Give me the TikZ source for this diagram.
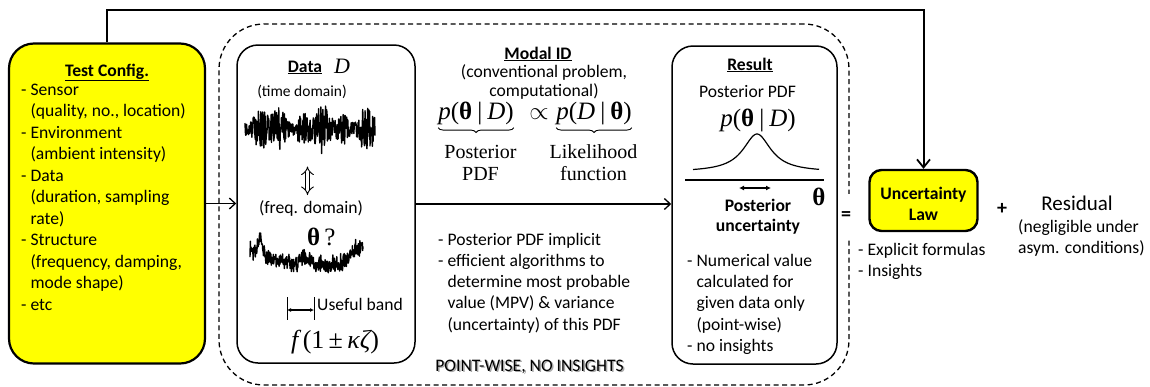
\documentclass[tikz,border=0pt]{standalone}
\usepackage{fontspec}
\setmainfont{Carlito}
\newfontfamily\tms{Liberation Serif}
\usetikzlibrary{arrows.meta,decorations.pathreplacing}

\definecolor{boxyellow}{RGB}{255,255,0}
\newcommand\itv[1]{{\itshape #1}}
\newcommand\bthe{{\bfseries θ}}
\newcommand\cont{\hphantom{- }}

\begin{document}
\begin{tikzpicture}[x=1pt,y=-1pt,
  txt/.style={inner sep=0pt, font=\fontsize{17.6}{21.5}\selectfont},
  btxt/.style={txt, font=\fontsize{17.6}{21.5}\selectfont\bfseries},
  mth/.style={inner sep=0pt, font=\fontsize{25}{30}\selectfont\tms},
  cfgbox/.style={draw, line width=2.2pt, fill=boxyellow, rounded corners=25pt},
  panel/.style={draw, line width=1.5pt, rounded corners=21pt},
  lawbox/.style={draw, line width=2.4pt, fill=boxyellow, rounded corners=12pt},
  group/.style={draw, line width=1.3pt, dash pattern=on 5pt off 3.5pt, rounded corners=45pt},
  arr/.style={line width=1.5pt, -{Straight Barb[length=6pt,width=11pt,line width=1.3pt]}},
  feed/.style={line width=2pt, -{Straight Barb[length=8pt,width=13pt,line width=1.8pt]}},
  brc/.style={line width=0.9pt, decorate, decoration={brace, mirror, amplitude=5pt}},
  sig/.style={line width=1.4pt, line join=round}
]
\useasboundingbox (0,0) rectangle (1150,386);

% ---------- frames ----------
\node[group, minimum width=630pt, minimum height=361pt] (grp) at (534,204.5) {};
\node[cfgbox, minimum width=196pt, minimum height=320pt] (cfg) at (107,203.5) {};
\node[panel, minimum width=178pt, minimum height=318pt] (data) at (326,204) {};
\node[panel, minimum width=165pt, minimum height=318pt] (res) at (754.5,205) {};
\node[lawbox, minimum width=108pt, minimum height=61pt] (law) at (923.5,200.5) {};

% ---------- connectors ----------
\coordinate (topy) at (0,10);
\draw[feed] (cfg.north) |- (law.north |- topy) -- (law.north);
\draw[arr] (cfg.east) -- (cfg.east -| data.west);
\draw[arr] (data.east) -- (data.east -| res.west);

% ---------- test configuration ----------
% (multi-line nodes are placed by the baseline of their last line)
\node[btxt, anchor=base] (cfgt) at (107,76) {\underline{Test Config.}};
\node[txt, anchor=base west, align=left] (cfgl) at (21,310) {%
- Sensor\\\cont(quality, no., location)\\- Environment\\\cont(ambient intensity)\\%
- Data\\\cont(duration, sampling\\\cont rate)\\- Structure\\\cont(frequency, damping,\\%
\cont mode shape)\\- etc};

% ---------- data panel ----------
\node[btxt, anchor=base] (datat) at (305,72) {\underline{Data}};
\node[mth, font=\fontsize{22}{26}\selectfont\tms, anchor=base] (dsym) at (342,73) {\itv{D}};
\node[txt, font=\fontsize{15.5}{19}\selectfont, anchor=base] (tdom) at (302,96) {(time domain)};
\pgfmathsetseed{4211}
\draw[sig] plot[domain=245:375, samples=340]
  (\x, {129 + (15 + 5*sin(\x*7) + 5*sin(\x*17))*rand});
\coordinate (ua) at (307.5,166.5);
\coordinate (ub) at (307.5,195);
\draw[line width=0.9pt, double distance=3.6pt, {Implies[]}-{Implies[]}] (ua) -- (ub);
\node[txt, anchor=base] (fdom) at (311,213) {(freq. domain)};
\node[mth, anchor=base west] (thq) at (307,245) {\bthe\,?};
\pgfmathsetseed{977}
\draw[sig] plot[domain=250:363, samples=320]
  (\x, {258 - 0.0035*(\x-315)^2 - 18*exp(-((\x-260)/3)^2) - 8*exp(-((\x-305)/6)^2)
        - 12*exp(-((\x-357)/8)^2) + 3*rand + 14*abs(rand)});
\coordinate (bl) at (287,297);
\coordinate (br) at (314,297);
\draw[line width=1pt] (bl) -- ++(0,23);
\draw[line width=1pt] (br) -- ++(0,23);
\draw[line width=1.2pt, {Latex[length=4pt,width=4pt]}-{Latex[length=4pt,width=4pt]}]
  ([yshift=-13pt]bl) -- ([yshift=-13pt]br);
\node[txt, anchor=base west] (useful) at (317,310) {Useful band};
\node[mth, font=\fontsize{26}{30}\selectfont\tms, anchor=base west] (band) at (291,348)
  {\itv{f}\,(1\,±\,\itv{κζ})};

% ---------- modal identification ----------
\node[btxt, anchor=base] (modt) at (538,59) {\underline{Modal ID}};
\node[txt, anchor=base, align=center, font=\fontsize{17.6}{19}\selectfont] (modd) at (544,96.5)
  {(conventional problem,\\computational)};
\node[mth, anchor=base] (post) at (476,119.5) {\itv{p}(\bthe\hspace{5pt}|\hspace{5pt}\itv{D})};
\node[mth, anchor=base] (prop) at (539,119.5) {$\propto$};
\node[mth, anchor=base] (lik) at (594,119.5) {\itv{p}(\itv{D}\hspace{5pt}|\hspace{5pt}\bthe)};
\draw[brc] ([yshift=-2.5pt]post.south west) -- ([yshift=-2.5pt]post.south east);
\draw[brc] ([yshift=-2.5pt]lik.south west) -- ([yshift=-2.5pt]lik.south east);
\node[mth, font=\fontsize{20}{22.4}\selectfont\tms, anchor=base, align=center] (postl) at (480.5,180.7)
  {Posterior\\PDF};
\node[mth, font=\fontsize{20}{22.4}\selectfont\tms, anchor=base, align=center] (likl) at (593.5,180.7)
  {Likelihood\\function};
\node[txt, anchor=base west, align=left, font=\fontsize{17.6}{21.3}\selectfont] (modl) at (438,330.2) {%
- Posterior PDF implicit\\- efficient algorithms to\\\cont determine most probable\\%
\cont value (MPV) \& variance\\\cont (uncertainty) of this PDF};
\node[txt, anchor=base, text=black!35] at (531,372.5) {POINT-WISE, NO INSIGHTS};
\node[txt, anchor=base] (pw) at (529.5,371) {POINT-WISE, NO INSIGHTS};

% ---------- result panel ----------
\node[btxt, anchor=base] (rest) at (750,70) {\underline{Result}};
\node[txt, anchor=base] (rpdf) at (747.5,97.7) {Posterior PDF};
\node[mth, anchor=base] (rp) at (758,126.7) {\itv{p}(\bthe\hspace{5pt}|\hspace{5pt}\itv{D})};
\draw[line width=1.2pt] plot[domain=693:819, samples=120]
  (\x, {172 - 38/(1+((\x-757)/17)^2)});
\coordinate (axl) at (685,180);
\coordinate (axr) at (824,180);
\draw[line width=1.5pt] (axl) -- (axr);
\draw[line width=1.5pt, {Latex[length=5pt,width=5pt]}-{Latex[length=5pt,width=5pt]}]
  (739,188) -- (771,188);
\node[mth, anchor=base] (rth) at (819,205) {\bthe};
\node[btxt, anchor=base, align=center, font=\fontsize{17.6}{20}\selectfont\bfseries] (runc) at (758,231)
  {Posterior\\uncertainty};
\node[txt, anchor=base west, align=left, font=\fontsize{17.6}{21.4}\selectfont] (resl) at (687,351.6) {%
- Numerical value\\\cont calculated for\\\cont given data only\\\cont (point-wise)\\- no insights};

% ---------- uncertainty law ----------
\node[btxt, anchor=base, align=center, font=\fontsize{17.6}{20.7}\selectfont\bfseries] (lawt) at (923.5,220)
  {Uncertainty\\Law};
\node[inner sep=2pt, fill=white, minimum height=44pt, font=\fontsize{20}{24}\selectfont\bfseries] (eq) at (846,216) {=};
\node[txt, anchor=base west, align=left, font=\fontsize{17.6}{21}\selectfont] (lawl) at (858,276)
  {- Explicit formulas\\- Insights};
\node[btxt, font=\fontsize{20}{24}\selectfont\bfseries] (plus) at (1002,209) {+};
\node[txt, font=\fontsize{21}{25}\selectfont, anchor=base] (resid) at (1077,210) {Residual};
\node[txt, anchor=base west, align=left, font=\fontsize{17.6}{21}\selectfont] (residl) at (1018,253)
  {(negligible under\\asym. conditions)};
\end{tikzpicture}
\end{document}
